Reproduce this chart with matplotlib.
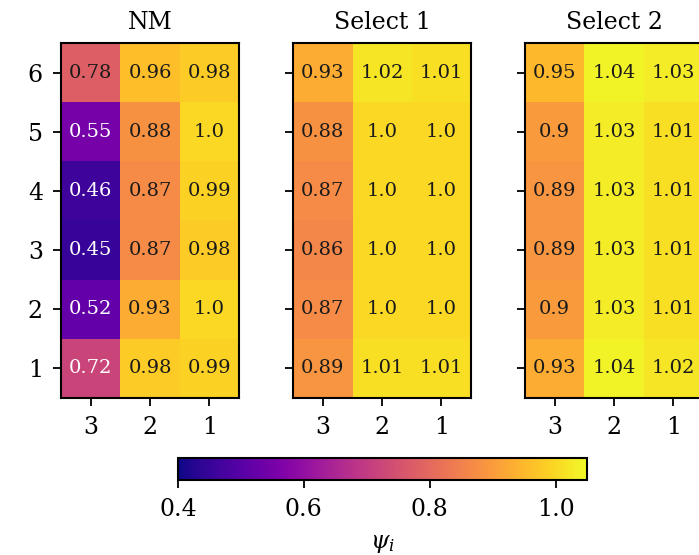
import numpy as np
import matplotlib
matplotlib.use("Agg")
import matplotlib.pyplot as plt

plt.rcParams['font.family'] = ['DejaVu Serif']
plt.rcParams['mathtext.fontset'] = 'dejavuserif'

titles = ["NM", "Select 1", "Select 2"]
row_labels = ["6", "5", "4", "3", "2", "1"]
col_labels = ["3", "2", "1"]

nm = [[0.78, 0.96, 0.98],
      [0.55, 0.88, 1.0],
      [0.46, 0.87, 0.99],
      [0.45, 0.87, 0.98],
      [0.52, 0.93, 1.0],
      [0.72, 0.98, 0.99]]
select1 = [[0.93, 1.02, 1.01],
           [0.88, 1.0, 1.0],
           [0.87, 1.0, 1.0],
           [0.86, 1.0, 1.0],
           [0.87, 1.0, 1.0],
           [0.89, 1.01, 1.01]]
select2 = [[0.95, 1.04, 1.03],
           [0.9, 1.03, 1.01],
           [0.89, 1.03, 1.01],
           [0.89, 1.03, 1.01],
           [0.9, 1.03, 1.01],
           [0.93, 1.04, 1.02]]
datasets = [nm, select1, select2]

vmin, vmax = 0.4, 1.05
W, H = 699, 555
fig = plt.figure(figsize=(W / 100, H / 100), dpi=100)

lefts = [61, 293, 525]
ax_w, top, bottom = 178, 43, 398
im = None
for i, (data, title) in enumerate(zip(datasets, titles)):
    ax = fig.add_axes([lefts[i] / W, 1 - bottom / H, ax_w / W, (bottom - top) / H])
    arr = np.array(data)
    im = ax.imshow(arr, cmap='plasma', vmin=vmin, vmax=vmax, aspect='auto')
    for r in range(arr.shape[0]):
        for c in range(arr.shape[1]):
            v = arr[r, c]
            txt = f"{v:.2f}".rstrip('0')
            if txt.endswith('.'):
                txt += '0'
            ax.text(c, r, txt, ha='center', va='center', fontsize=14,
                    color='white' if v < 0.75 else '#1a1a1a')
    ax.set_xticks(range(len(col_labels)))
    ax.set_xticklabels(col_labels, fontsize=17)
    ax.set_yticks(range(len(row_labels)))
    if i == 0:
        ax.set_yticklabels(row_labels, fontsize=17)
    else:
        ax.set_yticklabels([])
    ax.tick_params(length=6, width=1.3, pad=7)
    for s in ax.spines.values():
        s.set_linewidth(1.5)
    ax.set_title(title, fontsize=17, pad=10)

cax = fig.add_axes([178 / W, 1 - 480 / H, (587 - 178) / W, 22 / H])
cb = fig.colorbar(im, cax=cax, orientation='horizontal')
cb.set_ticks([0.4, 0.6, 0.8, 1.0])
cb.ax.tick_params(labelsize=17, length=6, width=1.3, pad=7)
cb.outline.set_linewidth(1.5)
cb.set_label(r'$\psi_i$', fontsize=17, labelpad=8)

fig.savefig("out.png", dpi=100)
